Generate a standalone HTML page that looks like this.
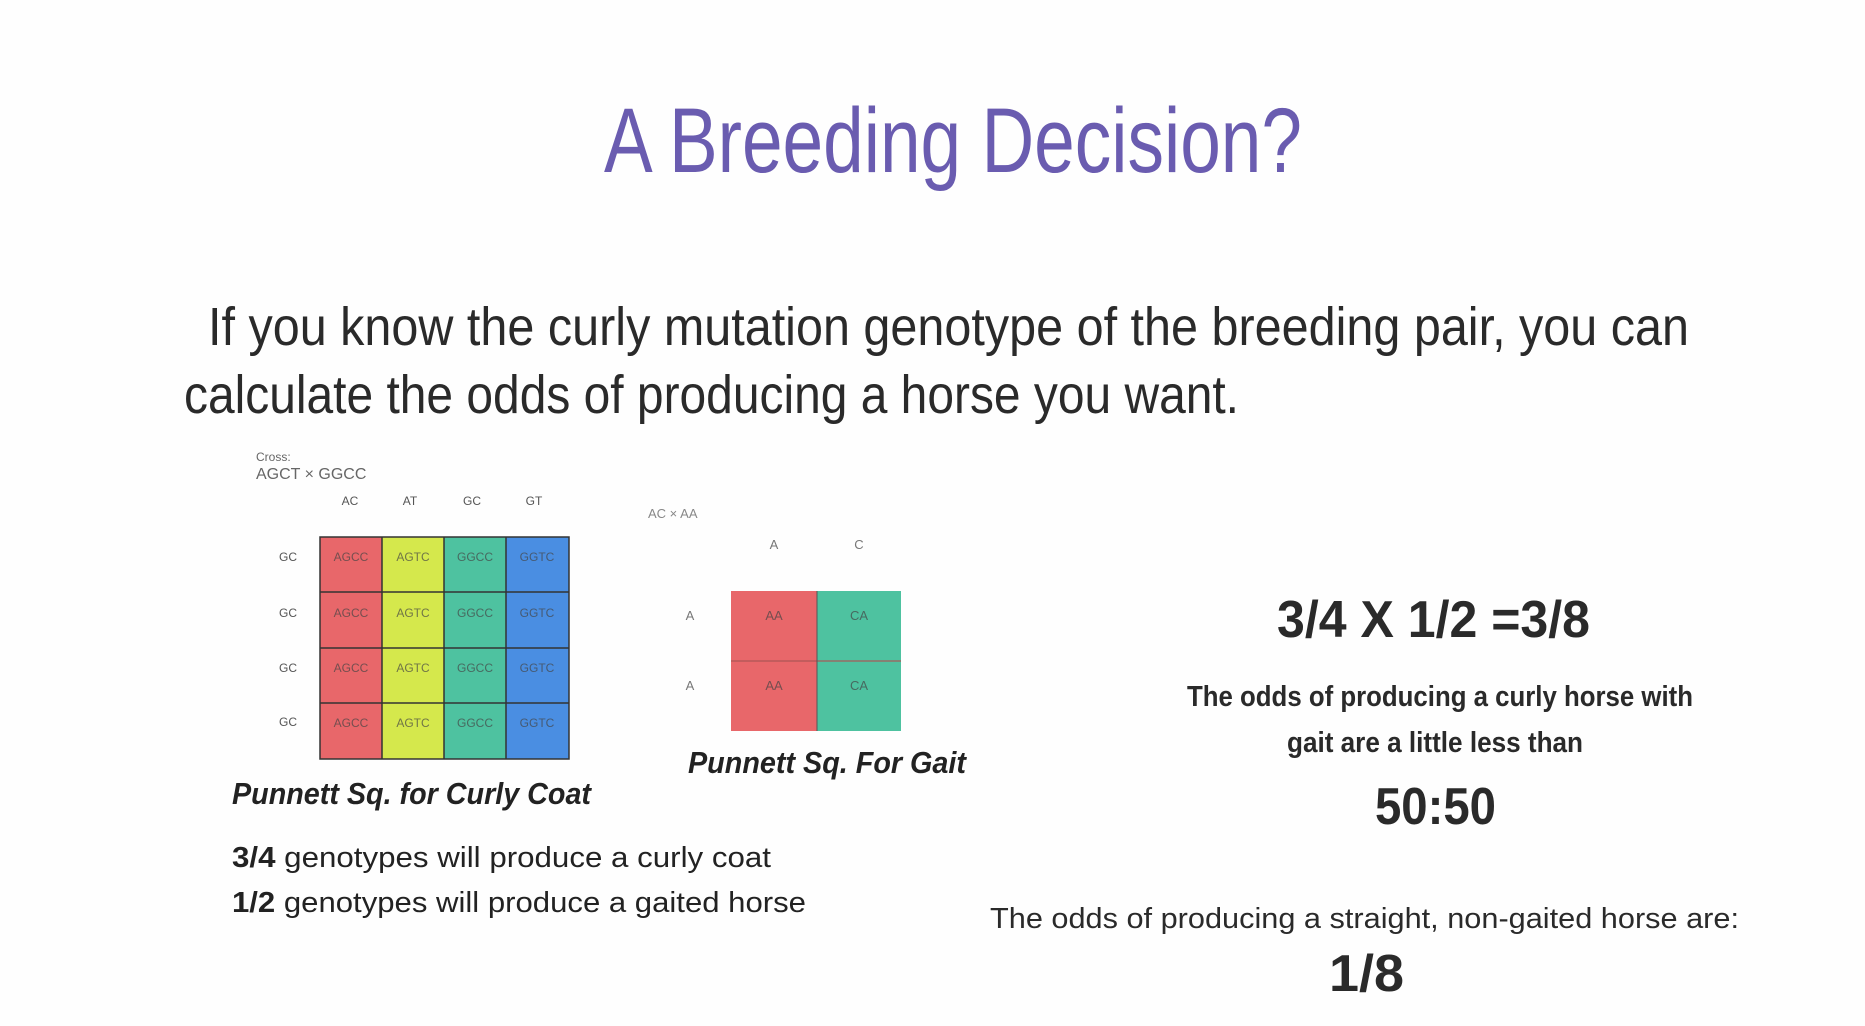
<!DOCTYPE html>
<html><head><meta charset="utf-8"><style>
html,body{margin:0;padding:0;background:#fff;}
svg{display:block;}
text{font-family:"Liberation Sans",sans-serif;}
</style></head><body>
<svg width="1865" height="1026" viewBox="0 0 1865 1026" xmlns="http://www.w3.org/2000/svg">
<rect width="1865" height="1026" fill="#fefefe"/>
<text x="604" y="172" font-size="92" fill="#6a5cb0" textLength="698" lengthAdjust="spacingAndGlyphs">A Breeding Decision?</text>
<text x="208" y="345" font-size="54" fill="#2a2a2a" textLength="1481" lengthAdjust="spacingAndGlyphs">If you know the curly mutation genotype of the breeding pair, you can</text>
<text x="184" y="413" font-size="54" fill="#2a2a2a" textLength="1055" lengthAdjust="spacingAndGlyphs">calculate the odds of producing a horse you want.</text>

<text x="256" y="461" font-size="12" fill="#666">Cross:</text>
<text x="256" y="479" font-size="16" fill="#666">AGCT × GGCC</text>
<g font-size="12" fill="#555" text-anchor="middle">
<text x="350" y="505">AC</text><text x="410" y="505">AT</text><text x="472" y="505">GC</text><text x="534" y="505">GT</text>
<text x="288" y="561">GC</text><text x="288" y="617">GC</text><text x="288" y="672">GC</text><text x="288" y="726">GC</text>
</g>
<rect x="320" y="537" width="62" height="222" fill="#e8676a"/>
<rect x="382" y="537" width="62" height="222" fill="#d5e84c"/>
<rect x="444" y="537" width="62" height="222" fill="#4ec2a0"/>
<rect x="506" y="537" width="63" height="222" fill="#4a8ee2"/>
<g stroke="#333" stroke-width="1.5" fill="none">
<rect x="320" y="537" width="249" height="222"/>
<line x1="382" y1="537" x2="382" y2="759"/><line x1="444" y1="537" x2="444" y2="759"/><line x1="506" y1="537" x2="506" y2="759"/>
<line x1="320" y1="592" x2="569" y2="592"/><line x1="320" y1="648" x2="569" y2="648"/><line x1="320" y1="703" x2="569" y2="703"/>
</g>
<g font-size="12" fill="#444" fill-opacity="0.7" text-anchor="middle">
<text x="351" y="561">AGCC</text><text x="413" y="561">AGTC</text><text x="475" y="561">GGCC</text><text x="537" y="561">GGTC</text>
<text x="351" y="617">AGCC</text><text x="413" y="617">AGTC</text><text x="475" y="617">GGCC</text><text x="537" y="617">GGTC</text>
<text x="351" y="672">AGCC</text><text x="413" y="672">AGTC</text><text x="475" y="672">GGCC</text><text x="537" y="672">GGTC</text>
<text x="351" y="727">AGCC</text><text x="413" y="727">AGTC</text><text x="475" y="727">GGCC</text><text x="537" y="727">GGTC</text>
</g>

<text x="648" y="518" font-size="13" fill="#888">AC × AA</text>
<g font-size="13" fill="#777" text-anchor="middle">
<text x="774" y="549">A</text><text x="859" y="549">C</text>
<text x="690" y="620">A</text><text x="690" y="690">A</text>
</g>
<rect x="731" y="591" width="86" height="140" fill="#e8676a"/>
<rect x="817" y="591" width="84" height="140" fill="#4ec2a0"/>
<line x1="731" y1="661" x2="901" y2="661" stroke="#a55" stroke-width="2" stroke-opacity="0.6"/>
<line x1="817" y1="591" x2="817" y2="731" stroke="#555" stroke-width="1"/>
<g font-size="13" fill="#444" fill-opacity="0.7" text-anchor="middle">
<text x="774" y="620">AA</text><text x="859" y="620">CA</text>
<text x="774" y="690">AA</text><text x="859" y="690">CA</text>
</g>

<text x="232" y="804" font-size="31" font-weight="bold" font-style="italic" fill="#222" textLength="359" lengthAdjust="spacingAndGlyphs">Punnett Sq. for Curly Coat</text>
<text x="688" y="773" font-size="31" font-weight="bold" font-style="italic" fill="#222" textLength="278" lengthAdjust="spacingAndGlyphs">Punnett Sq. For Gait</text>
<text x="232" y="867" font-size="29" fill="#222" textLength="539" lengthAdjust="spacingAndGlyphs"><tspan font-weight="bold">3/4</tspan> genotypes will produce a curly coat</text>
<text x="232" y="912" font-size="29" fill="#222" textLength="574" lengthAdjust="spacingAndGlyphs"><tspan font-weight="bold">1/2</tspan> genotypes will produce a gaited horse</text>

<text x="1277" y="637" font-size="52" font-weight="bold" fill="#2a2a2a" textLength="313" lengthAdjust="spacingAndGlyphs">3/4 X 1/2 =3/8</text>
<text x="1187" y="706" font-size="29" font-weight="bold" fill="#2a2a2a" textLength="506" lengthAdjust="spacingAndGlyphs">The odds of producing a curly horse with</text>
<text x="1287" y="752" font-size="29" font-weight="bold" fill="#2a2a2a" textLength="296" lengthAdjust="spacingAndGlyphs">gait are a little less than</text>
<text x="1375" y="824" font-size="52" font-weight="bold" fill="#2a2a2a" textLength="121" lengthAdjust="spacingAndGlyphs">50:50</text>
<text x="990" y="928" font-size="29" fill="#2a2a2a" textLength="749" lengthAdjust="spacingAndGlyphs">The odds of producing a straight, non-gaited horse are:</text>
<text x="1329" y="991" font-size="52" font-weight="bold" fill="#2a2a2a" textLength="75" lengthAdjust="spacingAndGlyphs">1/8</text>
</svg>
</body></html>
